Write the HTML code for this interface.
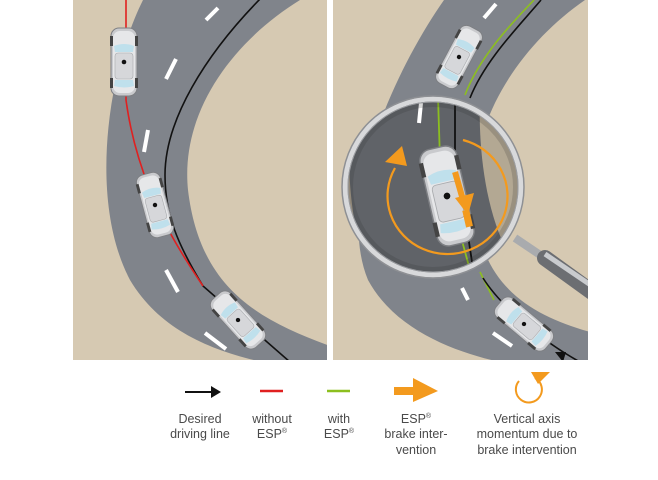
<!DOCTYPE html>
<html><head><meta charset="utf-8"><style>
html,body{margin:0;padding:0;background:#fff;width:658px;height:480px;overflow:hidden}
.t{font-family:"Liberation Sans",sans-serif;font-size:12.5px;fill:#4a4a4a;text-anchor:middle}
</style></head><body>
<svg width="658" height="480" viewBox="0 0 658 480" xmlns="http://www.w3.org/2000/svg">
<defs>
<g id="car">
  <rect x="-13" y="-34" width="26" height="68" rx="8" fill="#c9cacd" stroke="#7d7f83" stroke-width="1"/>
  <rect x="-11" y="-31" width="22" height="62" rx="7" fill="#e6e7e9"/>
  <rect x="-14" y="-26" width="3" height="10" fill="#444"/>
  <rect x="11" y="-26" width="3" height="10" fill="#444"/>
  <rect x="-14" y="16" width="3" height="10" fill="#444"/>
  <rect x="11" y="16" width="3" height="10" fill="#444"/>
  <path d="M-10,-16 Q0,-20 10,-16 L9,-10 L-9,-10 Z" fill="#bfe0ec"/>
  <path d="M-9,18 L9,18 L10,24 Q0,27 -10,24 Z" fill="#bfe0ec"/>
  <rect x="-9" y="-9" width="18" height="26" rx="3" fill="#d6d7da" stroke="#a8aaad" stroke-width="0.6"/>
  <circle cx="0" cy="0" r="2.3" fill="#111"/>
</g>
<clipPath id="lp"><rect x="73" y="0" width="254" height="360"/></clipPath>
<clipPath id="rp"><rect x="333" y="0" width="255" height="360"/></clipPath>
<clipPath id="mag"><circle cx="433" cy="187" r="86"/></clipPath>
</defs>

<!-- LEFT PANEL -->
<g clip-path="url(#lp)">
<rect x="73" y="0" width="254" height="360" fill="#d6c9b2"/>
<path d="M143,0 C108,70 88,200 130,280 C160,330 210,350 262,362 L330,362 L330,346 C260,320 200,290 188,190 C180,110 235,40 300,0 Z" fill="#80848b"/>
<g stroke="#fff" stroke-width="4" stroke-linecap="butt">
<line x1="206" y1="20" x2="218" y2="8"/>
<line x1="166" y1="79" x2="176" y2="59"/>
<line x1="144" y1="152" x2="148" y2="130"/>
<line x1="166" y1="270" x2="178" y2="292"/>
<line x1="205" y1="333" x2="226" y2="349"/>
</g>
<path d="M261,-2 C205,55 165,120 165,175 C165,215 178,245 203,286 L290,362" fill="none" stroke="#111" stroke-width="1.6"/>
<path d="M126,0 L126,100 C130,130 138,160 150,190 C160,215 172,240 203,286" fill="none" stroke="#e02020" stroke-width="1.6"/>
<use href="#car" transform="translate(124,62)"/>
<use href="#car" transform="translate(155,205) rotate(-15) scale(0.95)"/>
<use href="#car" transform="translate(238,320) rotate(-42) scale(0.95)"/>
</g>

<!-- RIGHT PANEL -->
<g clip-path="url(#rp)">
<rect x="333" y="0" width="255" height="360" fill="#d6c9b2"/>
<path d="M444,0 C395,70 335,200 368,280 C395,330 455,352 500,362 L590,362 L590,332 C530,315 478,285 474,200 C470,120 520,45 585,0 Z" fill="#80848b"/>
<g stroke="#fff" stroke-width="4">
<line x1="484" y1="18" x2="496" y2="4"/>
<line x1="462" y1="288" x2="468" y2="300"/>
<line x1="493" y1="333" x2="512" y2="346"/>
</g>
<path d="M534,0 C515,20 480,55 465,95" fill="none" stroke="#8cbf1f" stroke-width="1.6"/>
<path d="M541,0 C520,25 485,60 470,98" fill="none" stroke="#111" stroke-width="1.6"/>
<path d="M480,272 L494,300" fill="none" stroke="#8cbf1f" stroke-width="1.6"/>
<path d="M483,278 C500,305 540,340 580,362" fill="none" stroke="#111" stroke-width="1.6"/>
<path d="M555,352 L566,352 L563,362 Z" fill="#111"/>
<use href="#car" transform="translate(459,57) rotate(28) scale(0.95)"/>
<use href="#car" transform="translate(524,324) rotate(-50) scale(0.95)"/>
<line x1="515" y1="238" x2="592" y2="290" stroke="#a9abae" stroke-width="8"/>
<line x1="545" y1="258" x2="592" y2="292" stroke="#6c6e72" stroke-width="16" stroke-linecap="round"/>
<line x1="545" y1="254" x2="592" y2="286" stroke="#c9cbce" stroke-width="5"/>
</g>

<!-- MAGNIFIER -->
<g clip-path="url(#mag)">
<rect x="340" y="95" width="190" height="190" fill="#606368"/>
<path d="M480,95 C478,150 485,230 525,280 L530,280 L530,95 Z" fill="#b3a893"/>
<path d="M340,95 L352,95 C345,170 350,220 370,285 L340,285 Z" fill="#a99e8b"/>
<line x1="421" y1="103" x2="419" y2="123" stroke="#fff" stroke-width="4"/>
<path d="M438,97 L440,160 L470,270" fill="none" stroke="#8cbf1f" stroke-width="1.8"/>
<path d="M455,97 L455,150 L474,275" fill="none" stroke="#111" stroke-width="1.8"/>
<use href="#car" transform="translate(447,196) rotate(-13) scale(1.45)"/>
<path d="M463,140 A60 58 0 1 1 395,168" fill="none" stroke="#f39a1e" stroke-width="2.2"/>
<path d="M402,146 L385,162 L407,166 Z" fill="#f39a1e"/>
<path d="M455,172 L463,200" stroke="#f39a1e" stroke-width="6"/>
<path d="M455,198 L474,193 L468,215 Z" fill="#f39a1e"/>
<rect x="464" y="210" width="7" height="17" fill="#f39a1e" transform="rotate(-13 467 218)"/>
<circle cx="433" cy="187" r="86" fill="none" stroke="#333" stroke-opacity="0.2" stroke-width="12"/>
</g>
<circle cx="433" cy="187" r="88" fill="none" stroke="#d8d9db" stroke-width="5"/>
<circle cx="433" cy="187" r="91" fill="none" stroke="#8e9094" stroke-width="1.5"/>
<circle cx="433" cy="187" r="85" fill="none" stroke="#9a9ca0" stroke-width="1"/>

<!-- LEGEND -->
<line x1="185" y1="392" x2="213" y2="392" stroke="#111" stroke-width="2"/>
<path d="M211,386 L221,392 L211,398 Z" fill="#111"/>
<line x1="260" y1="391" x2="283" y2="391" stroke="#e02020" stroke-width="2.5"/>
<line x1="327" y1="391" x2="350" y2="391" stroke="#8cbf1f" stroke-width="2.5"/>
<rect x="394" y="387" width="22" height="8" fill="#f39a1e"/>
<path d="M413,378 L438,391 L413,402 Z" fill="#f39a1e"/>
<path d="M535,378 A13 13 0 1 1 519,381" fill="none" stroke="#f39a1e" stroke-width="2"/>
<path d="M531,372 L550,372 L538,384 Z" fill="#f39a1e"/>

<text class="t" x="200" y="423">Desired</text>
<text class="t" x="200" y="438">driving line</text>
<text class="t" x="272" y="423">without</text>
<text class="t" x="272" y="438">ESP<tspan font-size="7" dy="-5">®</tspan></text>
<text class="t" x="339" y="423">with</text>
<text class="t" x="339" y="438">ESP<tspan font-size="7" dy="-5">®</tspan></text>
<text class="t" x="416" y="423">ESP<tspan font-size="7" dy="-5">®</tspan></text>
<text class="t" x="416" y="438">brake inter-</text>
<text class="t" x="416" y="454">vention</text>
<text class="t" x="527" y="423">Vertical axis</text>
<text class="t" x="527" y="438">momentum due to</text>
<text class="t" x="527" y="454">brake intervention</text>
</svg>
</body></html>
